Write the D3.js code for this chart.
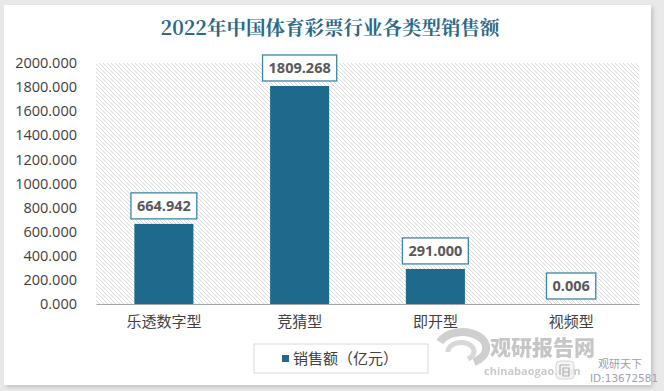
<!DOCTYPE html>
<html><head><meta charset="utf-8">
<script src="https://cdn.jsdelivr.net/npm/d3@7"></script>
<style>
html,body{margin:0;padding:0;background:#e9e9e9;}
svg{display:block;}
</style></head>
<body>
<script>
const categories = ["乐透数字型", "竞猜型", "即开型", "视频型"];
const values = [664.942, 1809.268, 291.000, 0.006];
const valueLabels = ["664.942", "1809.268", "291.000", "0.006"];
const yTicks = [0, 200, 400, 600, 800, 1000, 1200, 1400, 1600, 1800, 2000];
const title = "2022年中国体育彩票行业各类型销售额";
const seriesName = "销售额（亿元）";

const W = 664, H = 391;
const svg = d3.select("body").append("svg").attr("width", W).attr("height", H);
const defs = svg.append("defs");
const f = defs.append("filter").attr("id","shadow").attr("x","-5%").attr("y","-5%").attr("width","115%").attr("height","115%");
f.append("feDropShadow").attr("dx",2).attr("dy",2).attr("stdDeviation",2).attr("flood-color","#000").attr("flood-opacity",0.18);
const pat = defs.append("pattern").attr("id","hatch").attr("patternUnits","userSpaceOnUse")
  .attr("width",4).attr("height",4);
pat.append("rect").attr("width",4).attr("height",4).attr("fill","#fff");
pat.append("path").attr("d","M-1,-1 L5,5 M-1,3 L1,5 M3,-1 L5,1").attr("stroke","#dcdcdc").attr("stroke-width",1);

// card
svg.append("rect").attr("x",4).attr("y",5).attr("width",647).attr("height",380).attr("fill","#fff").attr("filter","url(#shadow)");

svg.append("text").attr("x",330).attr("y",35).attr("text-anchor","middle")
  .attr("font-family","'Noto Serif CJK SC','Noto Sans CJK SC',serif").attr("font-weight","bold")
  .attr("font-size",19.5).attr("fill","#2b6a87").text(title);

const x0 = 96, x1 = 639, yTop = 63, yBot = 304;
const x = d3.scaleBand().domain(categories).range([x0, x1]).paddingInner(0.565).paddingOuter(0.2825);
const y = d3.scaleLinear().domain([0, 2000]).range([yBot, yTop]);

svg.append("rect").attr("x",x0).attr("y",yTop).attr("width",x1-x0).attr("height",yBot-yTop).attr("fill","url(#hatch)");

const yAxis = d3.axisLeft(y).tickValues(yTicks).tickFormat(d3.format(".3f")).tickSize(0).tickPadding(19);
const ya = svg.append("g").attr("transform",`translate(${x0},0)`).call(yAxis);
ya.select(".domain").remove();
ya.selectAll("text").attr("font-family","'Open Sans','Noto Sans',sans-serif").attr("font-size",14.5).attr("fill","#404040");

svg.selectAll("rect.bar").data(values).enter().append("rect").attr("class","bar")
  .attr("x",(d,i)=>x(categories[i])).attr("width",x.bandwidth())
  .attr("y",d=>y(d)).attr("height",d=>yBot-y(d)).attr("fill","#1d6a8c");

const xAxis = d3.axisBottom(x).tickSize(0).tickPadding(12);
const xa = svg.append("g").attr("transform",`translate(0,${yBot})`).call(xAxis);
xa.select(".domain").attr("stroke","#a6a6a6").attr("stroke-width",1.2);
xa.selectAll("text").attr("font-family","'Noto Sans CJK SC',sans-serif").attr("font-size",15).attr("fill","#404040");

// value labels
const lg = svg.selectAll("g.lbl").data(values).enter().append("g").attr("class","lbl")
  .attr("transform",(d,i)=>`translate(${x(categories[i])+x.bandwidth()/2},${y(d)-18})`);
const rects = lg.append("rect").attr("y",-13).attr("height",26)
  .attr("fill","#fff").attr("stroke","#3c86a6").attr("stroke-width",1.3);
const texts = lg.append("text").attr("text-anchor","middle").attr("dy","0.36em")
  .attr("font-family","'Open Sans','Noto Sans',sans-serif").attr("font-weight","bold").attr("font-size",14.5)
  .attr("fill","#595959").text((d,i)=>valueLabels[i]);
texts.each(function(d,i){
  const w = this.getComputedTextLength() + 12;
  d3.select(rects.nodes()[i]).attr("x",-w/2).attr("width",w);
});

// legend
svg.append("rect").attr("x",254).attr("y",344).attr("width",174).attr("height",29).attr("fill","#fff").attr("stroke","#d9d9d9");
svg.append("rect").attr("x",282).attr("y",355).attr("width",7).attr("height",7).attr("fill","#1d6a8c");
svg.append("text").attr("x",293).attr("y",364).attr("font-family","'Noto Sans CJK SC',sans-serif").attr("font-size",15).attr("fill","#404040").text(seriesName);

// watermark
const wm = svg.append("g").attr("opacity",0.8);
wm.append("path").attr("d","M440,342 a24,16 0 1,1 34,20").attr("fill","none").attr("stroke","#c4c4c4").attr("stroke-width",8);
wm.append("path").attr("d","M448,352 a13,9 0 1,1 20,7").attr("fill","none").attr("stroke","#cfcfcf").attr("stroke-width",5);
wm.append("text").attr("x",490).attr("y",355).attr("font-family","'Noto Sans CJK SC',sans-serif").attr("font-weight","900").attr("font-size",21).attr("fill","#b9b9b9").text("观研报告网");
wm.append("text").attr("x",484).attr("y",375).attr("font-family","'Open Sans',sans-serif").attr("font-weight","bold").attr("font-size",11).attr("fill","#bdbdbd").text("chinabaogao.com");
svg.append("rect").attr("x",556).attr("y",361).attr("width",18).attr("height",18).attr("rx",4).attr("fill","#f4f4f4").attr("stroke","#d0d0d0").attr("opacity",0.85);
svg.append("path").attr("d","M560,365 h10 M560,365 v10 M563,368 h6 v8 h-6 z M563,372 h6").attr("fill","none").attr("stroke","#b0b0b0").attr("stroke-width",1.2);
svg.append("text").attr("x",598).attr("y",368).attr("font-family","'Noto Sans CJK SC',sans-serif").attr("font-size",11).attr("fill","#a0a0b0").text("观研天下");
svg.append("text").attr("x",590).attr("y",382).attr("font-family","'DejaVu Sans',sans-serif").attr("font-size",10.5).attr("fill","#a0a0b0").text("ID:13672581");
</script>
</body></html>
